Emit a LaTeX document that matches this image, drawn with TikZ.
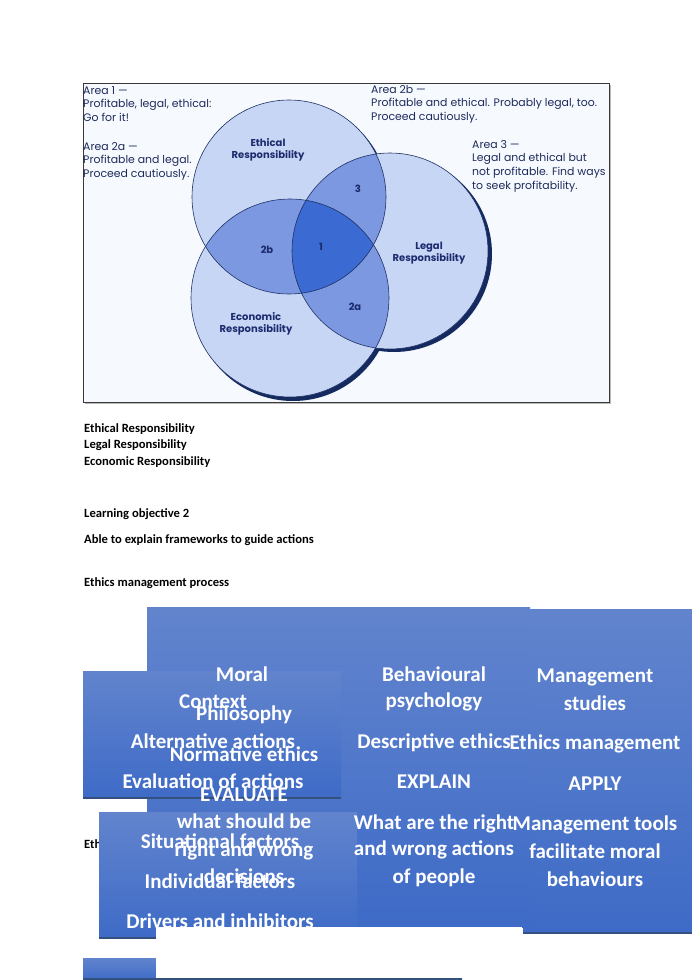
\documentclass[tikz,border=0pt]{standalone}
\usepackage{fontspec}
\setmainfont{Carlito}
\newfontfamily\venn{Poppins}
\definecolor{framebg}{HTML}{F6FAFE}
\definecolor{framecol}{HTML}{3A3A3A}
\definecolor{vlight}{HTML}{C8D6F5}
\definecolor{vmid}{HTML}{7C98E0}
\definecolor{vdark}{HTML}{3A6AD2}
\definecolor{vline}{HTML}{1F3266}
\definecolor{vshadow}{HTML}{152A5E}
\definecolor{areacol}{HTML}{1E2B5C}
\definecolor{labcol}{HTML}{1B2B6E}
\definecolor{boxtop}{HTML}{6284CD}
\definecolor{boxbot}{HTML}{3E6BC7}
\definecolor{boxline}{HTML}{34507F}
\tikzset{
  areatext/.style={anchor=north west, align=left, inner sep=0pt, text=areacol, font=\venn\fontsize{10.9}{13.7}\selectfont},
  vlabel/.style={align=center, inner sep=0pt, text=labcol, font=\venn\bfseries\fontsize{10}{12}\selectfont},
  doctext/.style={anchor=base west, inner sep=0pt, font=\bfseries\fontsize{12.6}{15}\selectfont},
  boxtext/.style={anchor=base, inner sep=0pt, text=white, font=\bfseries\fontsize{21}{25}\selectfont},
  bluebox/.style={top color=boxtop, bottom color=boxbot, draw=none},
  boxedge/.style={draw=boxline, line width=1.2pt},
  vcircle/.style={draw=vline, line width=0.6pt}
}
\begin{document}
\begin{tikzpicture}[x=1pt,y=-1pt]
\useasboundingbox (0,0) rectangle (692,980);
\fill[white] (0,0) rectangle (692,980);

% ---------- Venn figure ----------
\fill[gray!55] (85,85) rectangle (611,404);
\fill[framebg] (83,83) rectangle (609,402);
\draw[framecol, line width=1pt] (83,83) rectangle (609,402);

% shadows
\fill[vshadow] (292,200) circle[radius=97pt];
\fill[vshadow] (394,254) circle[radius=98pt];
\fill[vshadow] (293,302) circle[radius=99pt];
% single regions
\fill[vlight] (289,197) circle[radius=97pt];
\fill[vlight] (390,251) circle[radius=98pt];
\fill[vlight] (290,298) circle[radius=99pt];
% pair overlaps
\begin{scope}
  \clip (289,197) circle[radius=97pt];
  \fill[vmid] (390,251) circle[radius=98pt];
  \fill[vmid] (290,298) circle[radius=99pt];
\end{scope}
\begin{scope}
  \clip (390,251) circle[radius=98pt];
  \fill[vmid] (290,298) circle[radius=99pt];
\end{scope}
% triple overlap
\begin{scope}
  \clip (289,197) circle[radius=97pt];
  \clip (390,251) circle[radius=98pt];
  \fill[vdark] (290,298) circle[radius=99pt];
\end{scope}
% outlines
\draw[vcircle] (289,197) circle[radius=97pt];
\draw[vcircle] (390,251) circle[radius=98pt];
\draw[vcircle] (290,298) circle[radius=99pt];

% circle labels
\node[vlabel] (ethlab) at (268,150) {Ethical\\Responsibility};
\node[vlabel] (leglab) at (429,253) {Legal\\Responsibility};
\node[vlabel] (ecolab) at (256,324) {Economic\\Responsibility};
\node[vlabel] (r3) at (358,189) {3};
\node[vlabel] (r2b) at (267,250) {2b};
\node[vlabel] (r1) at (321,247) {1};
\node[vlabel] (r2a) at (355,307) {2a};

% area texts
\node[areatext] (area1) at (83,86) {Area 1 —\\Profitable, legal, ethical:\\Go for it!};
\node[areatext] (area2a) at (83,142) {Area 2a —\\Profitable and legal.\\Proceed cautiously.};
\node[areatext] (area2b) at (371,85) {Area 2b —\\Profitable and ethical. Probably legal, too.\\Proceed cautiously.};
\node[areatext] (area3) at (472,140) {Area 3 —\\Legal and ethical but\\not profitable. Find ways\\to seek profitability.};

% ---------- document texts ----------
\node[doctext] (t1) at (84,432) {Ethical Responsibility};
\node[doctext] (t2) at (84,448) {Legal Responsibility};
\node[doctext] (t3) at (84,465) {Economic Responsibility};
\node[doctext] (t4) at (84,517) {Learning objective 2};
\node[doctext] (t5) at (84,543) {Able to explain frameworks to guide actions};
\node[doctext] (t6) at (84,586) {Ethics management process};
\node[doctext] (t7) at (84,848) {Eth};

% ---------- blue boxes ----------
\shade[bluebox] (523,609) rectangle (692,933);
\draw[boxedge] (523,933) -- (692,933);
\shade[bluebox] (147,607) rectangle (530,927);
\shade[bluebox] (83,671) rectangle (341,798);
\draw[boxedge] (83,798) -- (341,798);
\shade[bluebox] (99,812) rectangle (357,938);
\draw[boxedge] (99,938) -- (357,938);
\shade[bluebox] (83,958) rectangle (462,980);
\draw[boxedge] (83,979) -- (462,979);

% column 1
\node[boxtext] (m1) at (242,681) {Moral};
\node[boxtext] (m2) at (244,720) {Philosophy};
\node[boxtext] (m3) at (244,761) {Normative ethics};
\node[boxtext] (m4) at (244,801) {EVALUATE};
\node[boxtext] (m5) at (244,828) {what should be};
\node[boxtext] (m6) at (244,856) {right and wrong};
\node[boxtext] (m7) at (244,883) {decisions};
% column 2
\node[boxtext] (b1) at (434,681) {Behavioural};
\node[boxtext] (b2) at (434,707) {psychology};
\node[boxtext] (b3) at (434,748) {Descriptive ethics};
\node[boxtext] (b4) at (434,788) {EXPLAIN};
\node[boxtext] (b5) at (434,829) {What are the right};
\node[boxtext] (b6) at (434,855) {and wrong actions};
\node[boxtext] (b7) at (434,883) {of people};
% column 3
\node[boxtext] (a1) at (595,682) {Management};
\node[boxtext] (a2) at (595,710) {studies};
\node[boxtext] (a3) at (595,749) {Ethics management};
\node[boxtext] (a4) at (595,790) {APPLY};
\node[boxtext] (a5) at (595,830) {Management tools};
\node[boxtext] (a6) at (595,858) {facilitate moral};
\node[boxtext] (a7) at (595,886) {behaviours};
% context box
\node[boxtext] (c1) at (213,708) {Context};
\node[boxtext] (c2) at (213,748) {Alternative actions};
\node[boxtext] (c3) at (213,788) {Evaluation of actions};
% situational box
\node[boxtext] (s1) at (220,848) {Situational factors};
\node[boxtext] (s2) at (220,888) {Individual factors};
\node[boxtext] (s3) at (220,928) {Drivers and inhibitors};

% white cover
\fill[white] (156,927) rectangle (522,978);
\end{tikzpicture}
\end{document}
